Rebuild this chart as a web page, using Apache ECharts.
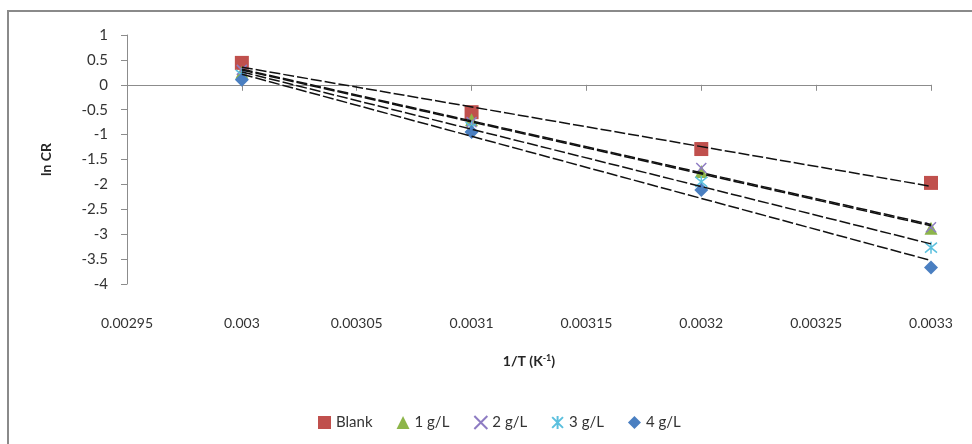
<!DOCTYPE html>
<html>
<head>
<meta charset="utf-8">
<script src="https://cdn.jsdelivr.net/npm/echarts@6/dist/echarts.min.js"></script>
<style>html,body{margin:0;padding:0;background:#fff;}#c{width:972px;height:444px;}</style>
</head>
<body>
<div id="c"></div>
<script>
// Data
const invT = [0.003, 0.0031, 0.0032, 0.0033];
const seriesNames = ['Blank', '1 g/L', '2 g/L', '3 g/L', '4 g/L'];
const blank = [0.44, -0.55, -1.29, -1.97];
const g1 = [0.25, -0.70, -1.74, -2.88];
const g2 = [0.30, -0.75, -1.67, -2.86];
const g3 = [0.20, -0.85, -1.95, -3.27];
const g4 = [0.10, -0.95, -2.11, -3.67];
const yTicks = [-4, 1, 0.5];
const xTicks = [0.00295, 0.0033, 0.00005];

const allY = [blank, g1, g2, g3, g4];
const colors = ['#C0504D', '#8DB54A', '#8E7CC3', '#5BC0DE', '#4A7FC1'];
const symbols = [
  'rect',
  'triangle',
  'path://M0,0L10,10M10,0L0,10',
  'path://M0,0L10,10M10,0L0,10M5,-1L5,11',
  'diamond'
];
const sizes = [14, 13, 10, 12, 14];

function fit(xs, ys) {
  const n = xs.length;
  const mx = xs.reduce((a, b) => a + b, 0) / n;
  const my = ys.reduce((a, b) => a + b, 0) / n;
  let num = 0, den = 0;
  for (let i = 0; i < n; i++) { num += (xs[i] - mx) * (ys[i] - my); den += (xs[i] - mx) ** 2; }
  const s = num / den;
  return x => my + s * (x - mx);
}

const font = 'Lato, "Open Sans", sans-serif';
const series = [];
allY.forEach((ys, i) => {
  const isStroke = symbols[i].startsWith('path://');
  series.push({
    name: seriesNames[i],
    type: 'scatter',
    data: invT.map((x, j) => [x, ys[j]]),
    symbol: symbols[i],
    symbolSize: sizes[i],
    z: 2,
    itemStyle: isStroke
      ? { color: 'rgba(0,0,0,0)', borderColor: colors[i], borderWidth: 1.5, opacity: 1 }
      : { color: colors[i], opacity: 1 }
  });
});
allY.forEach((ys, i) => {
  const f = fit(invT, ys);
  const x0 = invT[0], x1 = invT[invT.length - 1];
  series.push({
    name: 'trend' + i,
    type: 'line',
    data: [[x0, f(x0)], [x1, f(x1)]],
    symbol: 'none',
    silent: true,
    z: 5,
    lineStyle: { color: '#111', width: 1.5, type: [11, 3] }
  });
});

const chart = echarts.init(document.getElementById('c'));
chart.setOption({
  backgroundColor: '#fff',
  animation: false,
  graphic: [{
    type: 'rect',
    shape: { x: 8, y: 11, width: 1100, height: 1000 },
    style: { fill: 'none', stroke: '#8a8a8a', lineWidth: 2 },
    z: 0
  }],
  grid: { left: 127, right: 41, top: 35, bottom: 160, containLabel: false },
  xAxis: {
    type: 'value',
    min: xTicks[0], max: xTicks[1], interval: xTicks[2],
    name: '1/T (K{sup|-1})',
    nameLocation: 'middle',
    nameGap: 70,
    nameTextStyle: {
      fontFamily: font, fontSize: 14, fontWeight: 'bold', color: '#262626',
      rich: { sup: { fontSize: 9, fontWeight: 'bold', verticalAlign: 'top', padding: [0, 0, 6, 0], color: '#262626', fontFamily: font } }
    },
    axisLine: { lineStyle: { color: '#8c8c8c', width: 1 } },
    axisTick: { show: true, length: 6, lineStyle: { color: '#8c8c8c' } },
    axisLabel: {
      fontFamily: font, fontSize: 14, color: '#333', margin: 32,
      formatter: v => String(+v.toFixed(6))
    },
    splitLine: { show: false }
  },
  yAxis: {
    type: 'value',
    min: yTicks[0], max: yTicks[1], interval: yTicks[2],
    name: 'ln CR',
    nameLocation: 'middle',
    nameGap: 74,
    nameRotate: 90,
    nameTextStyle: { fontFamily: font, fontSize: 14, fontWeight: 'bold', color: '#262626' },
    axisLine: { show: true, lineStyle: { color: '#8c8c8c', width: 1 } },
    axisTick: { show: true, length: 6, lineStyle: { color: '#8c8c8c' } },
    axisLabel: { fontFamily: font, fontSize: 15, color: '#333', margin: 19 },
    splitLine: { show: false }
  },
  legend: {
    data: seriesNames,
    left: 313,
    top: 410,
    itemWidth: 13,
    itemHeight: 13,
    itemGap: 24,
    textStyle: { fontFamily: font, fontSize: 15, color: '#333' }
  },
  series: series
});
</script>
</body>
</html>
